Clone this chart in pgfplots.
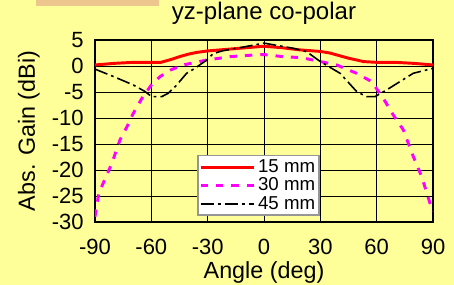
\documentclass[border=0pt]{standalone}
\usepackage{pgfplots}
\pgfplotsset{compat=1.18}
\usepackage{fontspec}
\setmainfont{Liberation Sans}
\definecolor{bg}{RGB}{255,255,153}
\definecolor{tanbox}{RGB}{236,198,140}
\definecolor{legbord}{RGB}{150,150,150}
\definecolor{mag}{RGB}{255,0,255}
\definecolor{redl}{RGB}{255,0,0}
\begin{document}
\begin{tikzpicture}
\fill[bg] (0pt,0pt) rectangle (340.5pt,213.75pt);
\useasboundingbox (0pt,0pt) rectangle (340.5pt,213.75pt);
\fill[tanbox] (27pt,213.75pt) rectangle (119.25pt,209pt);
\begin{axis}[
  at={(71.25pt,47.25pt)}, anchor=south west, scale only axis,
  width=253.5pt, height=136.5pt,
  xmin=-90, xmax=90, ymin=-30, ymax=5,
  xtick={-90,-60,...,90}, ytick={-30,-25,...,5},
  grid=major, grid style={black, line width=0.6pt},
  axis line style={black, line width=1.8pt},
  tick style={black, line width=0.6pt}, tick align=inside,
  /pgf/number format/assume math mode=true,
  ticklabel style={font=\fontsize{16.5}{18}\selectfont},
  xticklabel style={anchor=base, yshift=-24.5pt},
  yticklabel style={anchor=east, xshift=-5pt},
  title={yz-plane co-polar},
  title style={at={(axis description cs:0.5,1.068)}, anchor=base, font=\fontsize{18}{20}\selectfont},
  xlabel={Angle (deg)},
  xlabel style={at={(axis description cs:0.5,-0.309)}, anchor=base, font=\fontsize{17.5}{20}\selectfont},
  ylabel={Abs. Gain (dBi)},
  ylabel style={at={(axis description cs:-0.1775,0.5)}, anchor=base, font=\fontsize{17.5}{20}\selectfont},
  legend style={at={(axis description cs:0.302,0.368)}, anchor=north west,
    fill=white, draw=legbord, line width=1.1pt, font=\fontsize{14}{13}\selectfont,
    inner sep=1pt, row sep=-1.5pt},
  legend cell align=left,
  legend image code/.code={\draw[#1] (0pt,0pt) -- (40pt,0pt);},
]
\addplot[redl, line width=2.2pt] coordinates {
(-90,0.2) (-80,0.5) (-70,0.7) (-60,0.7) (-55,0.7) (-50,1.2) (-45,1.8) (-40,2.3) (-36,2.6) (-30,2.9) (-20,3.2) (-10,3.5) (0,3.8) (10,3.5) (19,3.1) (30,2.8) (35,2.5) (40,2.0) (45,1.5) (50,1.1) (53,0.85) (60,0.7) (70,0.7) (80,0.5) (90,0.2)
};
\addlegendentry{15 mm}
\addplot[mag, line width=2.2pt, dash pattern=on 5.5pt off 6pt] coordinates {
(-90,-29) (-88,-24.5) (-81,-18.7) (-76.7,-14.2) (-73,-11.7) (-69.6,-9.1) (-65,-6.2) (-60,-3.65) (-55.4,-2.05) (-50,-0.8) (-43,0.2) (-30.5,1.15) (-18,1.8) (-6,2.1) (0,2.2) (10,1.8) (20,1.6) (30.7,0.8) (38.7,0.2) (49.3,-1.4) (57.3,-3.0) (63.5,-6.2) (68.8,-9.4) (74.2,-12.3) (79.5,-17.4) (84,-21.3) (88.4,-26.4) (90,-28)
};
\addlegendentry{30 mm}
\addplot[black, line width=1.2pt, dash pattern=on 10pt off 3pt on 2pt off 3pt] coordinates {
(-90,-0.6) (-80,-2.05) (-69.6,-3.65) (-63.4,-4.9) (-59.8,-5.9) (-54.5,-5.9) (-51,-5.25) (-46.5,-3.65) (-41.2,-1.4) (-36.8,-0.45) (-30.5,1.15) (-27,2.4) (-21.7,2.95) (-14.6,3.4) (0,4.4) (15.6,3.4) (22.7,2.75) (30,0.85) (40.5,-1.4) (49.3,-4.9) (54.6,-5.9) (59.1,-5.9) (65.3,-4.6) (79.5,-1.4) (90,-0.45)
};
\addlegendentry{45 mm}
\end{axis}
\end{tikzpicture}
\end{document}
